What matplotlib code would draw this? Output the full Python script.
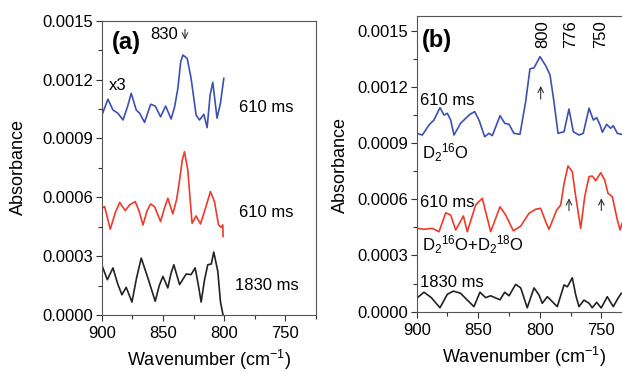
import matplotlib
matplotlib.use("Agg")
import matplotlib.pyplot as plt
from matplotlib.ticker import MultipleLocator

plt.rcParams['font.family'] = ['Liberation Sans', 'DejaVu Sans']
plt.rcParams['mathtext.fontset'] = 'custom'
plt.rcParams['mathtext.rm'] = 'Liberation Sans'
plt.rcParams['mathtext.it'] = 'Liberation Sans'

# ---- panel (a) data ----
a_blue_x = [900, 894.9, 890.8, 886.7, 882.6, 879, 875.9, 871.8, 869, 865, 860, 856.3,
            851.9, 847.8, 843.3, 840.5, 837.8, 835.5, 833.7, 830.2, 827, 822.9, 820.1,
            816.6, 813.9, 811.5, 809.3, 805.8, 803, 800.3]
a_blue_y = [0.001016, 0.0011, 0.001045, 0.001028, 0.000994, 0.00106, 0.00113, 0.001045,
            0.001028, 0.000982, 0.001074, 0.001065, 0.00101, 0.001065, 0.000999, 0.00106,
            0.001155, 0.00129, 0.001325, 0.001308, 0.001206, 0.001019, 0.000994, 0.001023,
            0.000955, 0.00112, 0.001186, 0.001003, 0.00108, 0.001206]

a_red_x = [900, 897.6, 893, 889, 885.3, 880.8, 877.2, 872.6, 869.5, 866.3, 863, 860.1,
           856.8, 851.9, 849, 846, 841.9, 838.8, 836.4, 834.2, 832.4, 829.7, 826.2,
           822.9, 819.3, 815, 811.2, 807.9, 804.6, 802.5, 801.1, 800.9]
a_red_y = [0.000544, 0.000552, 0.000437, 0.00052, 0.000574, 0.000532, 0.000561, 0.000578,
           0.00053, 0.000459, 0.00053, 0.000566, 0.000552, 0.000476, 0.00054, 0.000595,
           0.000515, 0.00059, 0.000688, 0.00079, 0.000832, 0.000739, 0.000467, 0.000505,
           0.000464, 0.00055, 0.000629, 0.000578, 0.000459, 0.000447, 0.000459, 0.0004]

a_blk_x = [900, 895.4, 890.8, 887, 883.5, 880, 875.3, 871.5, 867.7, 862.3, 856.3, 853,
           850, 846, 843.5, 841.1, 836.4, 831, 827, 823.7, 821, 818.8, 816, 813.4,
           810.5, 808.5, 805.2, 803, 800.9]
a_blk_y = [0.000256, 0.00018, 0.00024, 0.00016, 0.000103, 0.000141, 0.000066, 0.00019,
           0.00029, 0.000189, 0.00007, 0.00015, 0.000197, 0.000138, 0.00021, 0.000256,
           0.000155, 0.000209, 0.000206, 0.00024, 0.00015, 0.000066, 0.00018, 0.000256,
           0.00026, 0.000321, 0.000223, 0.000066, 0.0]

# ---- panel (b) data ----
b_blue_x = [900, 895.4, 890, 886, 881.1, 877.8, 875.1, 872.4, 869.7, 864.3, 860.2, 856.7,
            852.9, 849.4, 844.8, 841.3, 838.6, 832.3, 828.5, 825, 821, 816.1, 811.5,
            808, 804.7, 799.8, 795.2, 791.7, 788.5, 785.2, 780.3, 776.3, 772.8, 768.2,
            764.7, 760, 756.5, 753.8, 751.1, 749.2, 745.7, 742.4, 740.3, 737, 733.8]
b_blue_y = [0.000952, 0.000943, 0.000997, 0.001023, 0.001089, 0.00105, 0.001059, 0.001023,
            0.000943, 0.001006, 0.001032, 0.001054, 0.001068, 0.001023, 0.000934, 0.000952,
            0.00094, 0.001046, 0.001006, 0.001, 0.000952, 0.000947, 0.001121, 0.001296,
            0.001302, 0.001361, 0.001313, 0.001264, 0.001121, 0.000952, 0.000961, 0.001082,
            0.000961, 0.000943, 0.000952, 0.001086, 0.001023, 0.001036, 0.000997, 0.000958,
            0.001, 0.000979, 0.000993, 0.000952, 0.000947]

b_red_x = [900, 894.1, 887.3, 881.9, 876.4, 872.4, 868.3, 862.1, 858.9, 852.1, 846.7,
           839.9, 832.3, 827.7, 821.5, 815.5, 808.8, 803.3, 799.3, 795.2, 792.5, 786.3,
           783, 780.3, 777.1, 773.6, 770.8, 766.8, 763.5, 760, 757.3, 754.6, 750.5,
           747.3, 744.6, 741.1, 737, 734.8, 733.2]
b_red_y = [0.000445, 0.00044, 0.000445, 0.000427, 0.000528, 0.000516, 0.000436, 0.000511,
           0.000427, 0.00057, 0.000605, 0.000427, 0.00056, 0.000516, 0.000432, 0.000457,
           0.000525, 0.000547, 0.000552, 0.00048, 0.00044, 0.000543, 0.00057, 0.000685,
           0.000778, 0.000747, 0.000614, 0.000445, 0.000614, 0.000721, 0.000724, 0.000699,
           0.000742, 0.000703, 0.000632, 0.000614, 0.000489, 0.000436, 0.000472]

b_blk_x = [900, 894.1, 888.1, 881.1, 875.1, 870.2, 864.3, 858.9, 853.5, 848.6, 844,
           839.9, 835.8, 832.3, 828.5, 825, 819.6, 815.5, 810.2, 804.7, 800.6, 798,
           793.9, 791.1, 785.8, 780.3, 777.6, 773.6, 770.8, 768.2, 764.1, 760, 757.4,
           753.8, 750.1, 745.2, 740.3, 736.5, 733.8]
b_blk_y = [0.0000715, 0.000104, 0.000075, 0.000021, 0.000093, 0.00011, 0.000098, 0.000062,
           0.000027, 0.000104, 0.000075, 0.000085, 0.000073, 0.000064, 0.000104, 0.000085,
           0.000146, 0.000127, 0.000021, 0.000127, 0.000089, 0.000045, 0.00008, 0.000062,
           0.000027, 0.000143, 0.000133, 0.000181, 0.000089, 0.000027, 0.000062, 0.000045,
           0.000021, 0.00005, 0.00002, 0.00008, 0.000027, 0.0000715, 0.000098]

blue = '#3c50b4'
red = '#f03a28'
black = '#222222'
fs = 12

fig = plt.figure(figsize=(6.22, 3.72), dpi=100)
W, H = 622.0, 372.0

def setup(ax, ylim):
	ax.set_xlim(900, 725)
	ax.set_ylim(*ylim)
	ax.xaxis.set_major_locator(MultipleLocator(50))
	ax.xaxis.set_minor_locator(MultipleLocator(25))
	ax.yaxis.set_major_locator(MultipleLocator(0.0003))
	ax.yaxis.set_minor_locator(MultipleLocator(0.00015))
	ax.yaxis.set_major_formatter(plt.FuncFormatter(lambda v, p: '%.4f' % v))
	ax.tick_params(which='both', direction='out', top=False, right=False,
				   labelsize=fs, color='#333333', width=0.8, pad=2)
	ax.tick_params(axis='x', pad=4)
	ax.tick_params(which='major', length=4)
	ax.tick_params(which='minor', length=3)
	for s in ax.spines.values():
		s.set_color('#555555')
		s.set_linewidth(0.8)
	ax.set_xlabel('Wavenumber (cm$^{-1}$)', fontsize=13, labelpad=5)

# panel (a)
ax1 = fig.add_axes([101.7/W, 1-315/H, (316-101.7)/W, (315-20.7)/H])
setup(ax1, (0, 0.0015))
ax1.plot(a_blue_x, a_blue_y, color=blue, lw=1.2)
ax1.plot(a_red_x, a_red_y, color=red, lw=1.2)
ax1.plot(a_blk_x, a_blk_y, color=black, lw=1.2)
ax1.text(892, 0.00139, '(a)', fontsize=17, fontweight='bold', va='center')
ax1.text(860, 0.00143, '830', fontsize=fs, va='center')
ax1.annotate('', xy=(832, 0.00139), xytext=(832, 0.00147),
			 arrowprops=dict(arrowstyle='->', color='#333333', lw=0.8))
ax1.text(894, 0.00117, 'x3', fontsize=fs, va='center')
ax1.text(788, 0.00106, '610 ms', fontsize=fs, va='center')
ax1.text(788, 0.00052, '610 ms', fontsize=fs, va='center')
ax1.text(791, 0.00015, '1830 ms', fontsize=fs, va='center')
fig.text(18/W, 1-167/H, 'Absorbance', rotation=90, fontsize=13, ha='center', va='center')

# panel (b)
ax2 = fig.add_axes([416.7/W, 1-311.7/H, 175*1.231/W, (311.7-15.7)/H])
setup(ax2, (0, 0.00158))
ax2.plot(b_blue_x, b_blue_y, color=blue, lw=1.2)
ax2.plot(b_red_x, b_red_y, color=red, lw=1.2)
ax2.plot(b_blk_x, b_blk_y, color=black, lw=1.2)
ax2.text(896, 0.00145, '(b)', fontsize=17, fontweight='bold', va='center')
for wn, lab in [(797.8, '800'), (774.6, '776'), (750.7, '750')]:
	ax2.text(wn, 0.00148, lab, rotation=90, fontsize=fs, ha='center', va='center')
for wn, y0, y1 in [(799.3, 0.00112, 0.00122), (776.3, 0.000525, 0.00062), (750, 0.000525, 0.00062)]:
	ax2.annotate('', xy=(wn, y1), xytext=(wn, y0),
				 arrowprops=dict(arrowstyle='->', color='#333333', lw=0.8))
ax2.text(897, 0.00113, '610 ms', fontsize=fs, va='center')
ax2.text(896, 0.00085, 'D$_2$$^{16}$O', fontsize=fs, va='center')
ax2.text(897, 0.000585, '610 ms', fontsize=fs, va='center')
ax2.text(896, 0.00036, 'D$_2$$^{16}$O+D$_2$$^{18}$O', fontsize=fs, va='center')
ax2.text(897, 0.000158, '1830 ms', fontsize=fs, va='center')
fig.text(340/W, 1-165/H, 'Absorbance', rotation=90, fontsize=13, ha='center', va='center')

fig.savefig('out.png', dpi=100)
